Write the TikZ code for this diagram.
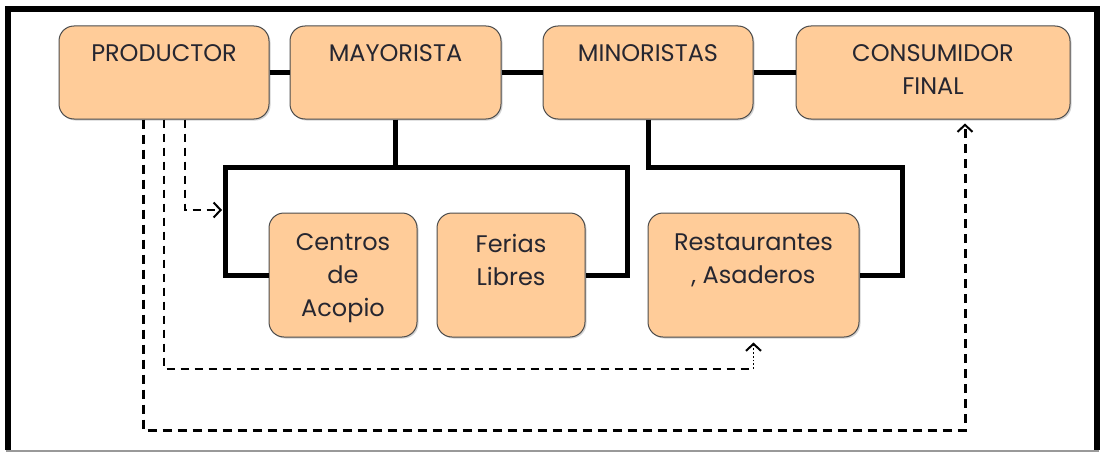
\documentclass[tikz,border=0pt]{standalone}
\usepackage{fontspec}
\setmainfont{Poppins}
\usetikzlibrary{arrows.meta,shadows}
\definecolor{boxfill}{HTML}{FFCC99}
\definecolor{txt}{HTML}{262630}
\newcommand{\bxt}[4]{\parbox[c][#2][t]{#1}{\centering\vspace*{#3}#4}}
\begin{document}
\begin{tikzpicture}[x=1pt,y=-1pt,
  box/.style={draw=black!70, line width=1pt, fill=boxfill, rounded corners=15pt,
    inner sep=0pt, text=txt, font=\fontsize{24}{33}\selectfont,
    drop shadow={shadow xshift=1.5pt, shadow yshift=-1.5pt, opacity=0.35}},
  conn/.style={line width=4.5pt},
  bracket/.style={line width=5pt, line join=miter},
  odash/.style={line width=3pt, dash pattern=on 9pt off 6pt},
  idash/.style={line width=1.8pt, dash pattern=on 8pt off 6pt},
  tipb/.style={-{Straight Barb[length=7pt,width=15pt,line width=2pt]}}
]
\useasboundingbox (0,0) rectangle (1100,452);
% frame
\draw[line width=5.5pt, line join=miter] (8,450) -- (8,9) -- (1097,9) -- (1097,450);
\draw[black!40, line width=1.5pt] (6,451) -- (1099,451);

% top row
\node[box] (prod) at (164,72.5) {\bxt{210pt}{93pt}{19pt}{PRODUCTOR}};
\node[box] (may) at (395.5,72.5) {\bxt{211pt}{93pt}{19pt}{MAYORISTA}};
\node[box] (min) at (648,72.5) {\bxt{210pt}{93pt}{19pt}{MINORISTAS}};
\node[box] (cons) at (933,72.5) {\bxt{274pt}{93pt}{19pt}{CONSUMIDOR\\FINAL}};

% bottom row
\node[box] (cen) at (343,275) {\bxt{148pt}{124pt}{21pt}{Centros\\de\\Acopio}};
\node[box] (fer) at (511,275) {\bxt{148pt}{124pt}{21pt}{Ferias\\Libres}};
\node[box] (res) at (753.5,275) {\bxt{211pt}{124pt}{21pt}{Restaurantes\\, Asaderos}};

% top connectors
\draw[conn] (prod.east) -- (may.west);
\draw[conn] (may.east) -- (min.west);
\draw[conn] (min.east) -- (cons.west);

% brackets
\coordinate (bl) at (225,167);
\coordinate (br) at (627,167);
\coordinate (rr) at (902,167);
\draw[bracket] (may.south) -- (may.south |- bl);
\draw[bracket] (cen.west) -| (bl) -- (br) |- (fer.east);
\draw[bracket] (min.south) |- (rr) |- (res.east);

% dashed flows
\coordinate (o1) at (143,430);
\coordinate (o2) at (965,430);
\coordinate (i1) at (164,369);
\coordinate (i2) at (753.5,369);
\coordinate (a3) at (222,210);
\draw[odash, tipb, shorten >=4pt] ([xshift=-21pt]prod.south) -- (o1) -- (o2) -- ([xshift=32pt]cons.south);
\draw[idash] (prod.south) -- (i1) -- (i2);
\draw[line width=1.8pt, dotted, tipb, shorten >=5pt] (i2) -- (res.south);
\draw[idash, tipb] ([xshift=21pt]prod.south) |- (a3);
\end{tikzpicture}
\end{document}
